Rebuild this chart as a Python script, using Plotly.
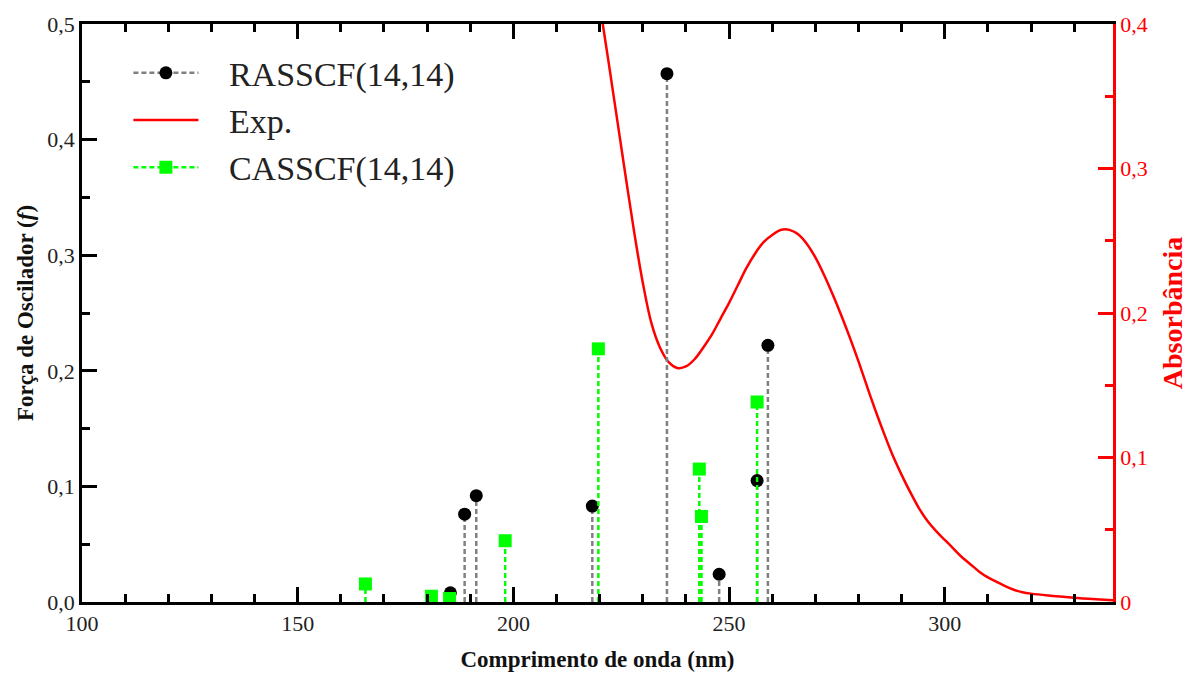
import plotly.graph_objects as go

# ---- data ----
ras_wl = [185.4, 188.7, 191.4, 218.3, 235.6, 247.7, 256.5, 259.0]
ras_f = [0.008, 0.076, 0.092, 0.083, 0.457, 0.024, 0.105, 0.222]

cas_wl = [165.7, 181.0, 185.2, 198.1, 219.7, 243.1, 243.6, 256.5]
cas_f = [0.0156, 0.005, 0.003, 0.053, 0.219, 0.115, 0.074, 0.173]

exp_wl = [218, 220, 222, 224, 226, 228, 230, 232, 234, 236, 238, 240, 242, 244, 246,
          248, 250, 252, 254, 256, 258, 260, 262, 263, 264, 266, 268, 270, 272, 274,
          276, 278, 280, 282, 284, 286, 288, 290, 292, 294, 296, 298, 300, 302, 304,
          306, 308, 310, 312, 314, 316, 318, 320, 324, 328, 332, 336, 340]
exp_abs = [0.454, 0.414, 0.375, 0.335, 0.295, 0.256, 0.221, 0.193, 0.176, 0.166,
           0.162, 0.163, 0.168, 0.176, 0.185, 0.196, 0.207, 0.219, 0.231, 0.241,
           0.249, 0.254, 0.2575, 0.258, 0.2575, 0.2545, 0.248, 0.2385, 0.2265, 0.213,
           0.1985, 0.183, 0.1665, 0.149, 0.132, 0.116, 0.101, 0.088, 0.076, 0.065,
           0.056, 0.049, 0.043, 0.037, 0.031, 0.026, 0.021, 0.017, 0.014, 0.011,
           0.0085, 0.0068, 0.0058, 0.0045, 0.0035, 0.0025, 0.0017, 0.001]

FONT = "Liberation Serif"
GRAY = "#808080"
GREEN = "#00ff00"
RED = "#ff0000"
NB = "\u00a0"


def stems(xs, ys):
    sx, sy = [], []
    for x, y in zip(xs, ys):
        sx += [x, x, None]
        sy += [0, y, None]
    return sx, sy


fig = go.Figure()

# Experimental curve (primary y = absorbance, right side, drawn below)
fig.add_trace(go.Scatter(x=exp_wl, y=exp_abs, mode="lines", name=NB * 3 + "Exp.",
                         line=dict(color=RED, width=2.5, shape="spline", smoothing=1.0),
                         yaxis="y", legendrank=2))

# RASSCF stems + markers
sx, sy = stems(ras_wl, ras_f)
fig.add_trace(go.Scatter(x=sx, y=sy, mode="lines", showlegend=False,
                         line=dict(color=GRAY, width=2.5, dash="5px,3px"), yaxis="y2"))
fig.add_trace(go.Scatter(x=ras_wl, y=ras_f, mode="markers", showlegend=False,
                         marker=dict(color="black", size=13, symbol="circle"),
                         cliponaxis=False, yaxis="y2"))
# CASSCF stems + markers
sx, sy = stems(cas_wl, cas_f)
fig.add_trace(go.Scatter(x=sx, y=sy, mode="lines", showlegend=False,
                         line=dict(color=GREEN, width=2.5, dash="5px,3px"), yaxis="y2"))
fig.add_trace(go.Scatter(x=cas_wl, y=cas_f, mode="markers", showlegend=False,
                         marker=dict(color=GREEN, size=13, symbol="square"),
                         cliponaxis=False, yaxis="y2"))

# legend entries
fig.add_trace(go.Scatter(x=[None], y=[None], mode="lines+markers", name=NB * 3 + "RASSCF(14,14)",
                         line=dict(color=GRAY, width=2.5, dash="5px,3px"),
                         marker=dict(color="black", size=13, symbol="circle"),
                         yaxis="y2", legendrank=1))
fig.add_trace(go.Scatter(x=[None], y=[None], mode="lines+markers", name=NB * 3 + "CASSCF(14,14)",
                         line=dict(color=GREEN, width=2.5, dash="5px,3px"),
                         marker=dict(color=GREEN, size=13, symbol="square"),
                         yaxis="y2", legendrank=3))

fig.update_layout(
    width=1188, height=675,
    margin=dict(l=82, r=75, t=24, b=73),
    plot_bgcolor="white", paper_bgcolor="white",
    separators=",.",
    font=dict(family=FONT, size=22, color="#222222"),
    showlegend=True,
    legend=dict(x=0.045, y=0.965, xanchor="left", yanchor="top",
                font=dict(family=FONT, size=34, color="#222222"),
                bgcolor="rgba(0,0,0,0)", itemwidth=65, traceorder="normal"),
    xaxis=dict(range=[100, 339], tick0=100, dtick=50, automargin=False,
               showline=True, linecolor="black", linewidth=2.5, mirror="ticks",
               ticks="inside", ticklen=15, tickwidth=2.5, tickcolor="black",
               minor=dict(dtick=10, tick0=100, ticks="inside", ticklen=8, tickwidth=2.5, tickcolor="black"),
               showgrid=False, zeroline=False,
               tickfont=dict(family=FONT, size=22, color="#222222"),
               title=dict(text="<b>Comprimento de onda (nm)</b>", standoff=16,
                          font=dict(family=FONT, size=23, color="#111111"))),
    yaxis=dict(side="right", range=[0, 0.4], dtick=0.1, tick0=0, automargin=False,
               showline=True, linecolor=RED, linewidth=2.5,
               ticks="inside", ticklen=15, tickwidth=2.5, tickcolor=RED,
               minor=dict(dtick=0.05, ticks="inside", ticklen=8, tickwidth=2.5, tickcolor=RED),
               showgrid=False, zeroline=False,
               tickfont=dict(family=FONT, size=22, color=RED),
               title=dict(text="<b>Absorbância</b>", standoff=20,
                          font=dict(family=FONT, size=28, color=RED))),
    yaxis2=dict(overlaying="y", side="left", anchor="x", range=[0, 0.5], dtick=0.1, tick0=0,
                tickformat=".1f", automargin=False,
                showline=True, linecolor="black", linewidth=2.5,
                ticks="inside", ticklen=15, tickwidth=2.5, tickcolor="black",
                minor=dict(dtick=0.05, ticks="inside", ticklen=8, tickwidth=2.5, tickcolor="black"),
                showgrid=False, zeroline=False,
                tickfont=dict(family=FONT, size=22, color="#222222"),
                title=dict(text="<b>Força de Oscilador (<i>f</i>)</b>", standoff=8,
                           font=dict(family=FONT, size=23, color="#111111"))),
)

fig.write_html("out.html")
